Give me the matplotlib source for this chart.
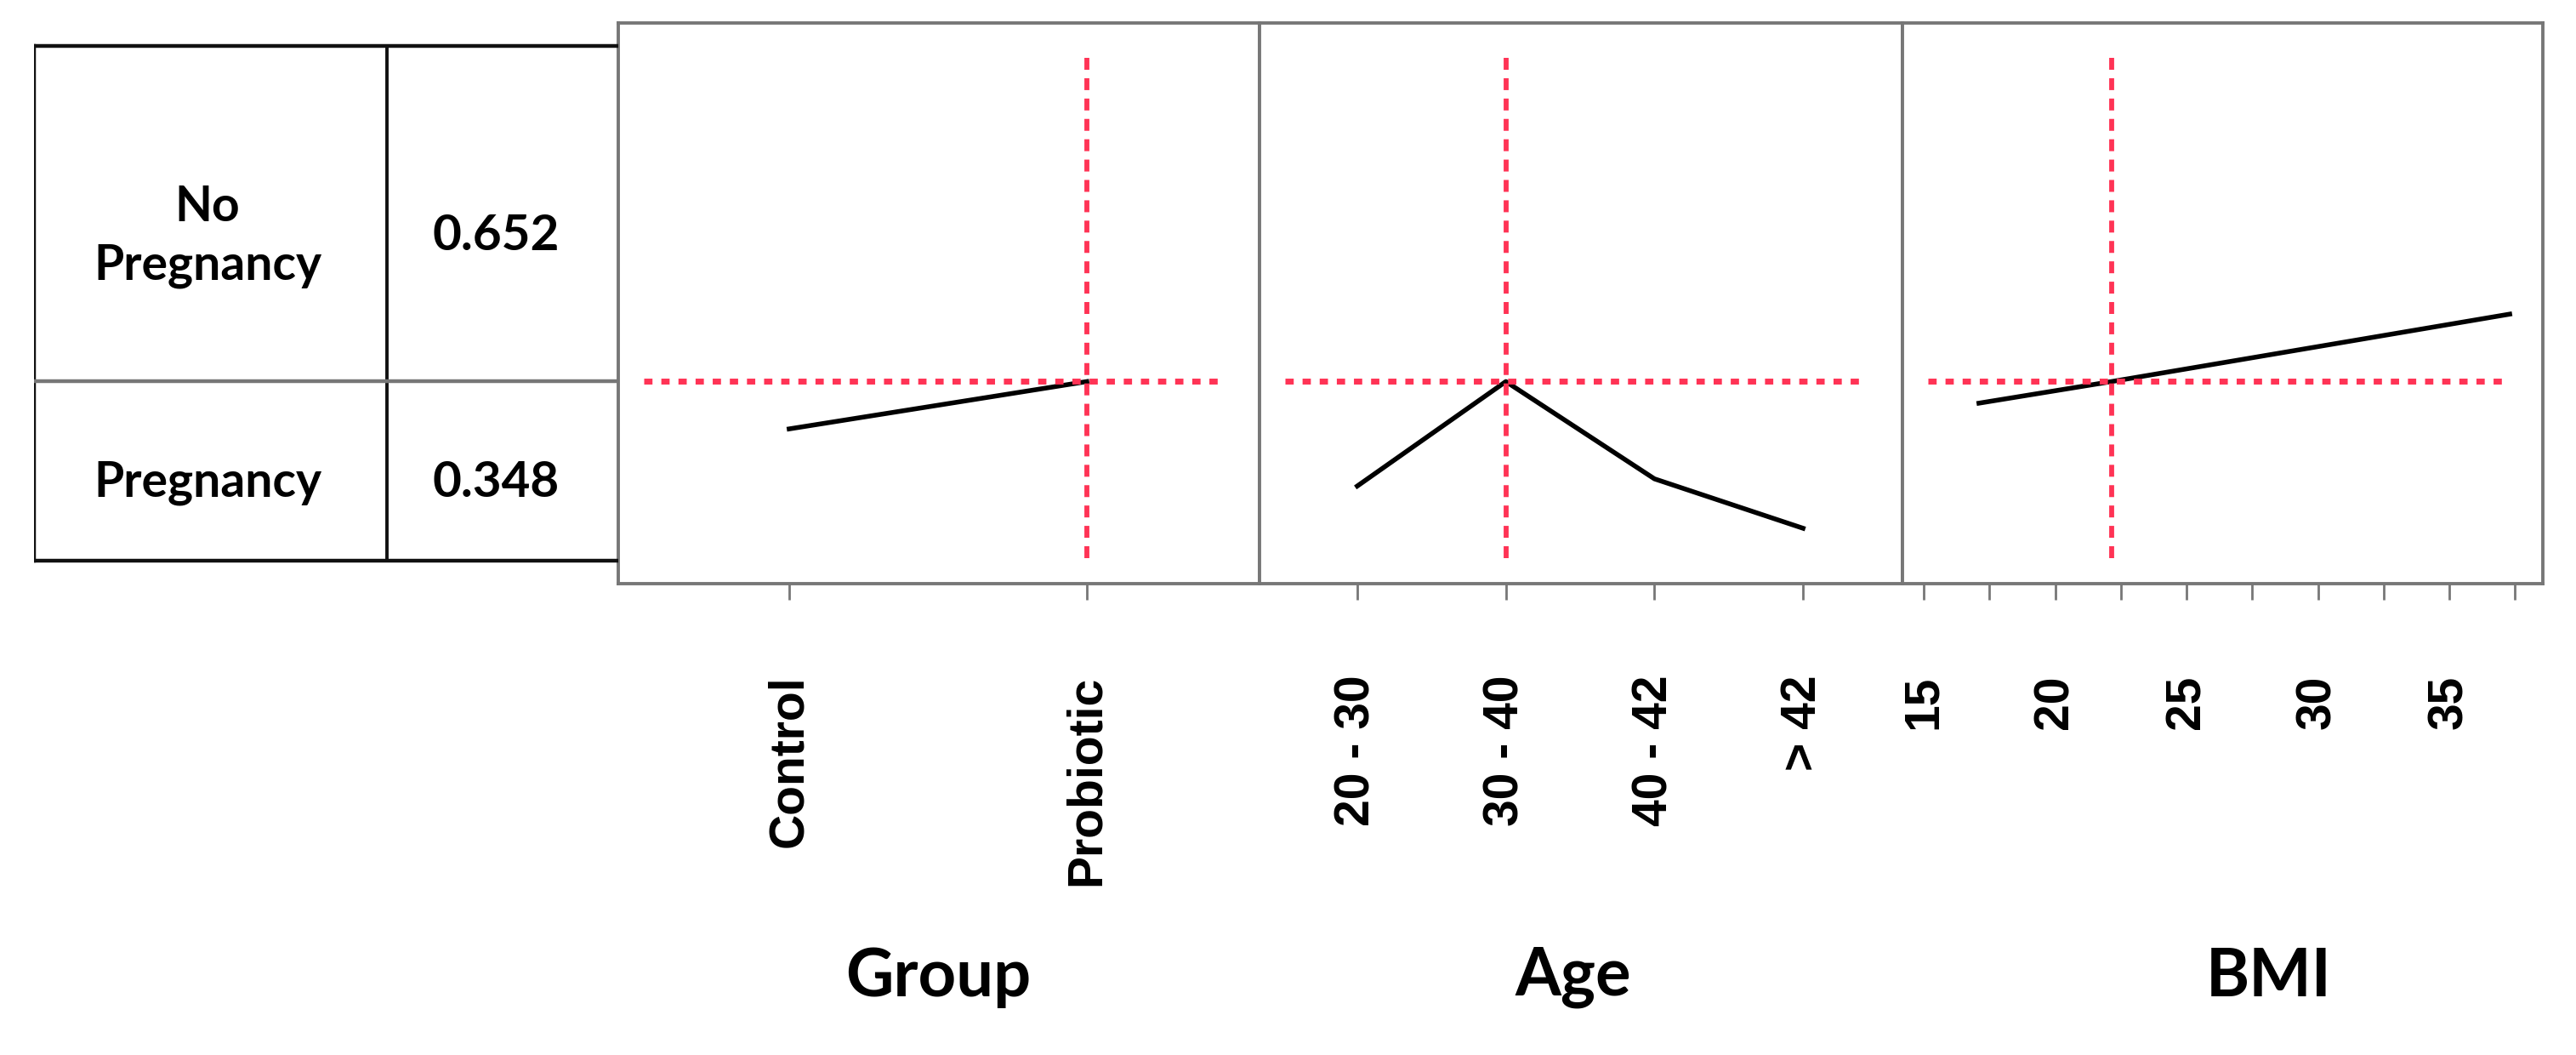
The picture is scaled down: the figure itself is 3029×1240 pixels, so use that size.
import matplotlib.pyplot as plt
from matplotlib.ticker import FixedLocator

# outcome table
outcomes = ["No\nPregnancy", "Pregnancy"]
probs = [0.652, 0.348]

# main effects (probability of pregnancy)
group_labels = ["Control", "Probiotic"]
group_vals = [0.256, 0.348]

age_labels = ["20 - 30", "30 - 40", "40 - 42", "> 42"]
age_vals = [0.145, 0.348, 0.159, 0.063]

bmi_x = [17.1, 22.15, 37.3]
bmi_vals = [0.306, 0.348, 0.479]
bmi_ticks = [15, 20, 25, 30, 35]
bmi_minor = [17.5, 22.5, 27.5, 32.5, 37.5]

# reference settings (red cross hairs)
ref_prob = probs[1]
group_ref = 1
age_ref = 1
bmi_ref = 22.15

W, H = 3029, 1240
DPI = 200
RED = "#ff3355"
GRAY = "#777777"
TICKFONT = dict(family="Liberation Sans", weight="bold", size=20.5)


def box(x0, x1, y0, y1):
    # pixel box (top-based y) -> figure fraction rect
    return [x0 / W, 1 - y1 / H, (x1 - x0) / W, (y1 - y0) / H]


fig = plt.figure(figsize=(W / DPI, H / DPI), dpi=DPI)

top, bot = 27, 686
ylim = (-27 / 605, 1 + 27 / 605)

panels = [
    (727, 1481, (-0.574, 1.58)),
    (1481, 2237, (-0.658, 3.669)),
    (2237, 2990, (14.19, 38.56)),
]
axes = []
for x0, x1, xl in panels:
    ax = fig.add_axes(box(x0, x1, top, bot))
    ax.set_xlim(*xl)
    ax.set_ylim(*ylim)
    ax.set_yticks([])
    for s in ax.spines.values():
        s.set_color(GRAY)
        s.set_linewidth(1.4)
    ax.tick_params(axis="x", which="both", length=6.8, width=1.0,
                   color=GRAY, pad=32, labelrotation=90)
    axes.append(ax)

ax_g, ax_a, ax_b = axes

ax_g.plot(range(len(group_vals)), group_vals, color="black", lw=2.0)
ax_g.set_xticks(range(len(group_labels)))
ax_g.set_xticklabels(group_labels, fontdict=TICKFONT)

ax_a.plot(range(len(age_vals)), age_vals, color="black", lw=2.0)
ax_a.set_xticks(range(len(age_labels)))
ax_a.set_xticklabels(age_labels, fontdict=TICKFONT)

ax_b.plot(bmi_x, bmi_vals, color="black", lw=2.0)
ax_b.set_xticks(bmi_ticks)
ax_b.set_xticklabels([str(t) for t in bmi_ticks], fontdict=TICKFONT)
ax_b.xaxis.set_minor_locator(FixedLocator(bmi_minor))

for ax, xr in zip(axes, [group_ref, age_ref, bmi_ref]):
    ax.axhline(ref_prob, xmin=0.04, xmax=0.945, color=RED, lw=2.5,
               linestyle=(0, (1.4, 1.5)))
    ax.axvline(xr, ymin=0.045, ymax=0.94, color=RED, lw=2.1,
               linestyle=(0, (2.4, 1.7)))

# outcome table on the left
tab = fig.add_axes(box(40, 727, top, bot))
tab.set_xlim(0, 1)
tab.set_ylim(*ylim)
tab.axis("off")
col = (455 - 40) / 687
tab.plot([0, 1], [1, 1], color="#111111", lw=1.6, solid_capstyle="butt")
tab.plot([0, 1], [0, 0], color="#111111", lw=1.6, solid_capstyle="butt")
tab.plot([0, 0], [0, 1], color="#111111", lw=1.6)
tab.plot([col, col], [0, 1], color="#111111", lw=1.4)
tab.plot([0, 1], [probs[1], probs[1]], color=GRAY, lw=1.6)

cell_y = [0.63, 0.152]
for lab, p, cy in zip(outcomes, probs, cell_y):
    tab.text(0.297, cy, lab, ha="center", va="center", family="Lato",
             weight="bold", fontsize=20.5, linespacing=1.35)
    tab.text(0.79, cy, f"{p:.3f}", ha="center", va="center", family="Lato",
             weight="bold", fontsize=21)

# factor titles
for name, px in zip(["Group", "Age", "BMI"], [1103, 1850, 2668]):
    fig.text(px / W, 1 - 1149 / H, name, ha="center", va="center",
             family="Lato", weight="bold", fontsize=28)

fig.savefig("out.png", dpi=DPI)
